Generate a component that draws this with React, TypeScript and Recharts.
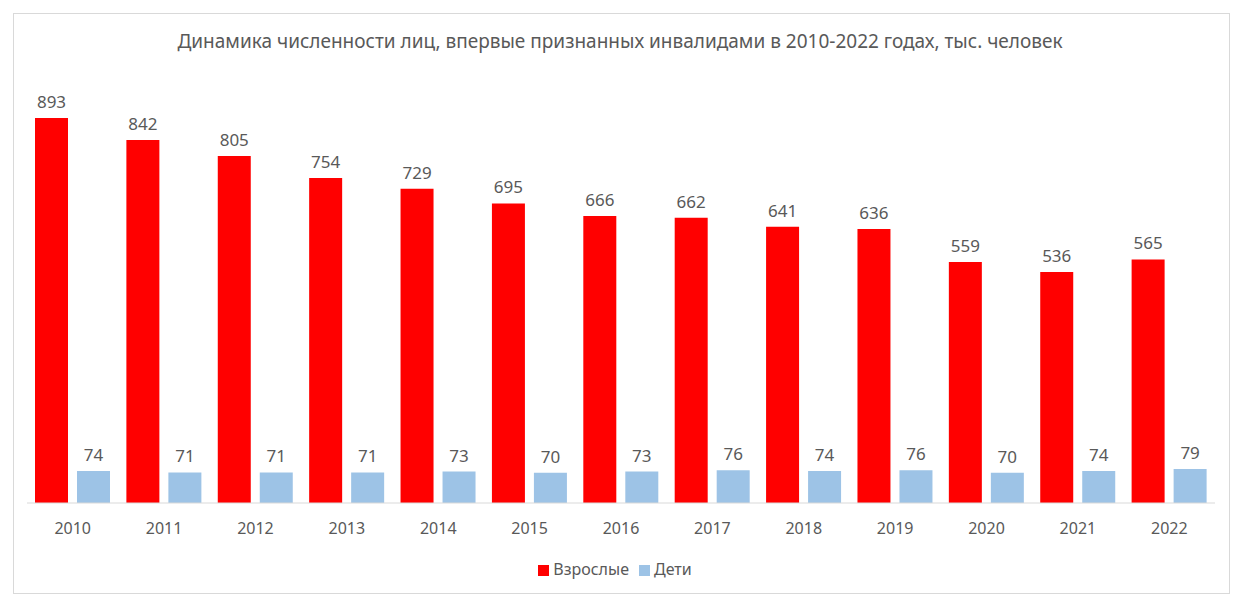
import { BarChart, Bar, XAxis, YAxis, Legend, LabelList } from 'recharts'

const years = ['2010', '2011', '2012', '2013', '2014', '2015', '2016', '2017', '2018', '2019', '2020', '2021', '2022']
const adults = [893, 842, 805, 754, 729, 695, 666, 662, 641, 636, 559, 536, 565]
const children = [74, 71, 71, 71, 73, 70, 73, 76, 74, 76, 70, 74, 79]

const TEXT = '#595959'
const FONT = '"Noto Sans", sans-serif'

const data = years.map((year, i) => ({ year, adults: adults[i], children: children[i] }))

export default function App() {
  return (
    <div style={{ position: 'absolute', left: 0, top: 0, width: 1240, height: 599, background: '#fff', fontFamily: FONT }}>
      <div style={{ position: 'absolute', left: 13, top: 13, width: 1215, height: 579, border: '1px solid #d9d9d9' }} />
      <div style={{ position: 'absolute', left: 0, top: 28, width: 1240, textAlign: 'center', fontSize: 19, color: TEXT }}>
        Динамика численности лиц, впервые признанных инвалидами в 2010-2022 годах, тыс. человек
      </div>
      <div style={{ position: 'absolute', left: 0, top: 0 }}>
        <BarChart width={1240} height={599} data={data} margin={{ top: 72, right: 25, left: 27, bottom: 0 }} barCategoryGap={8} barGap={9}>
          <XAxis dataKey="year" height={96} axisLine={{ stroke: '#d9d9d9' }} tickLine={false} tick={{ fill: TEXT, fontSize: 16, fontFamily: FONT }} dy={12} />
          <YAxis hide domain={[0, 1000]} width={0} />
          <Legend
            layout="horizontal"
            verticalAlign="middle"
            align="center"
            iconType="square"
            iconSize={11}
            wrapperStyle={{ position: 'absolute', top: 558, left: 0, width: 1240, fontSize: 16, fontFamily: FONT }}
            formatter={(v) => <span style={{ color: TEXT }}>{v}</span>}
          />
          <Bar dataKey="adults" name="Взрослые" fill="#ff0000" isAnimationActive={false}>
            <LabelList dataKey="adults" position="top" offset={10} fill={TEXT} fontSize={17} fontFamily={FONT} />
          </Bar>
          <Bar dataKey="children" name="Дети" fill="#9dc3e6" isAnimationActive={false}>
            <LabelList dataKey="children" position="top" offset={10} fill={TEXT} fontSize={17} fontFamily={FONT} />
          </Bar>
        </BarChart>
      </div>
    </div>
  )
}
